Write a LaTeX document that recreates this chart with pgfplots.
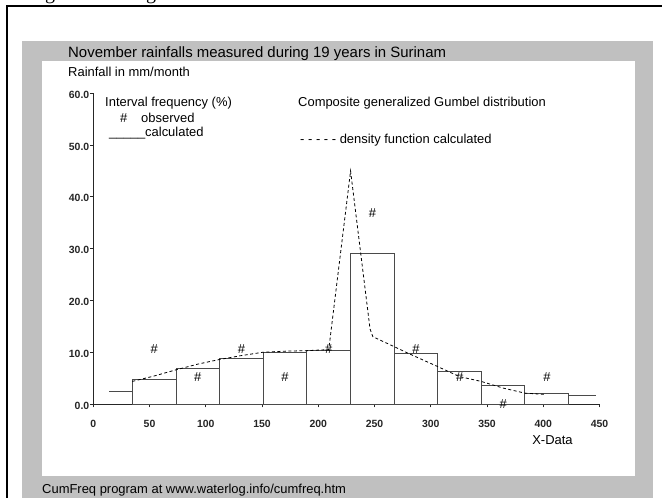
\documentclass[border=0pt]{standalone}
\usepackage{pgfplots}
\pgfplotsset{compat=1.18}
\usepackage{fontspec}
\setmainfont{Liberation Sans}
\newfontfamily\seriffont{Liberation Serif}
\definecolor{panelgray}{HTML}{C0C0C0}
\definecolor{barline}{HTML}{4A4A4A}

\begin{document}
\begin{tikzpicture}[x=1bp,y=1bp]
\useasboundingbox (0,0) rectangle (662,498);
\fill[white] (0,0) rectangle (662,498);
% panels
\fill[panelgray] (22,0) rectangle (652.7,457);
\fill[white] (42,22.3) rectangle (635,437);
% outer frame and cut-off text above it
\begin{scope}
\clip (0,492.5) rectangle (662,498);
\node[font=\seriffont\fontsize{20}{20}\selectfont, anchor=base west, inner sep=0] at (45,498) {g};
\node[font=\seriffont\fontsize{20}{20}\selectfont, anchor=base west, inner sep=0] at (146,498) {g};
\end{scope}
\draw[line width=2bp] (7,0) -- (7,491.5) -- (662,491.5);
% titles and texts
\node[anchor=base west, inner sep=0, font=\fontsize{15}{15}\selectfont] at (68,440) {November rainfalls measured during 19 years in Surinam};
\node[anchor=base west, inner sep=0, font=\fontsize{13}{13}\selectfont] at (68,421) {Rainfall in mm/month};
\node[anchor=base west, inner sep=0, font=\fontsize{13}{13}\selectfont] at (105,391.4) {Interval frequency (\%)};
\node[anchor=base west, inner sep=0, font=\fontsize{13}{13}\selectfont] at (120,375.7) {\#};
\node[anchor=base west, inner sep=0, font=\fontsize{13}{13}\selectfont] at (141,375.7) {observed};
\node[anchor=base west, inner sep=0, font=\fontsize{13}{13}\selectfont] at (109,361.7) {\_\_\_\_\_calculated};
\node[anchor=base west, inner sep=0, font=\fontsize{13}{13}\selectfont] at (298,391.4) {Composite generalized Gumbel distribution};
\node[anchor=base west, inner sep=0, font=\fontsize{13}{13}\selectfont] at (300,354.4) {- - - - - density function calculated};
\node[inner sep=0, font=\fontsize{13}{13}\selectfont] at (552.5,58) {X-Data};
\node[anchor=base west, inner sep=0, font=\fontsize{13}{13}\selectfont] at (42,4.7) {CumFreq program at www.waterlog.info/cumfreq.htm};

\begin{axis}[
  at={(93.3bp,94bp)}, anchor=south west,
  scale only axis, width=506.2bp, height=310.7bp,
  xmin=0, xmax=450, ymin=0, ymax=60,
  axis x line=bottom, axis y line=left,
  axis line style={-, black!85, line width=0.8bp},
  tick align=outside, major tick length=3.5bp,
  tick style={black!85, line width=0.8bp},
  xtick={0,50,...,450}, ytick={0,10,...,60},
  /pgf/number format/assume math mode=true,
  ticklabel style={font=\fontsize{10.5}{12}\selectfont\bfseries, text=black!85},
  yticklabel style={/pgf/number format/fixed, /pgf/number format/fixed zerofill, /pgf/number format/precision=1, xshift=3bp, yshift=-1.5bp},
  xticklabel style={yshift=-9bp},
  clip=false,
]
% calculated interval frequencies (histogram)
\addplot[ybar interval, draw=barline, line width=0.9bp, fill=white] coordinates {
(34.70,4.80) (73.47,6.86) (112.24,8.85) (151.01,10.00) (189.78,10.40)
(228.55,29.00) (267.32,9.80) (306.09,6.28) (344.86,3.59) (383.63,2.05) (422.40,0)};
\addplot[barline, line width=0.9bp] coordinates {(14.3,2.5) (34.7,2.5)};
\addplot[barline, line width=0.9bp] coordinates {(422.4,1.67) (447,1.67)};
% density function calculated
\addplot[black, line width=0.8bp, dash pattern=on 3bp off 2.5bp] coordinates {
(34.7,4.36) (54,5.4) (73.5,6.6) (92.9,7.7) (112.3,8.6) (131.7,9.35) (151,10.0)
(170,10.2) (189.6,10.3) (209.3,10.5) (228.7,45.0) (246,14.5) (248.5,13.0)
(267.2,11.1) (279.8,9.8) (306,7.24) (325.4,5.3) (344.8,4.36) (364.2,3.08)
(383.6,2.1) (400.7,1.86)};
% observed interval frequencies
\addplot[only marks, mark=text, text mark={\#}, text mark as node=true,
  text mark style={font=\fontsize{13}{13}\selectfont, inner sep=0pt}] coordinates {
(54.1,10.53) (92.9,5.26) (131.7,10.53) (170.5,5.26) (209.3,10.53)
(248.1,36.84) (286.9,10.53) (325.7,5.26) (364.5,0) (403.3,5.26)};
\end{axis}
\end{tikzpicture}
\end{document}
